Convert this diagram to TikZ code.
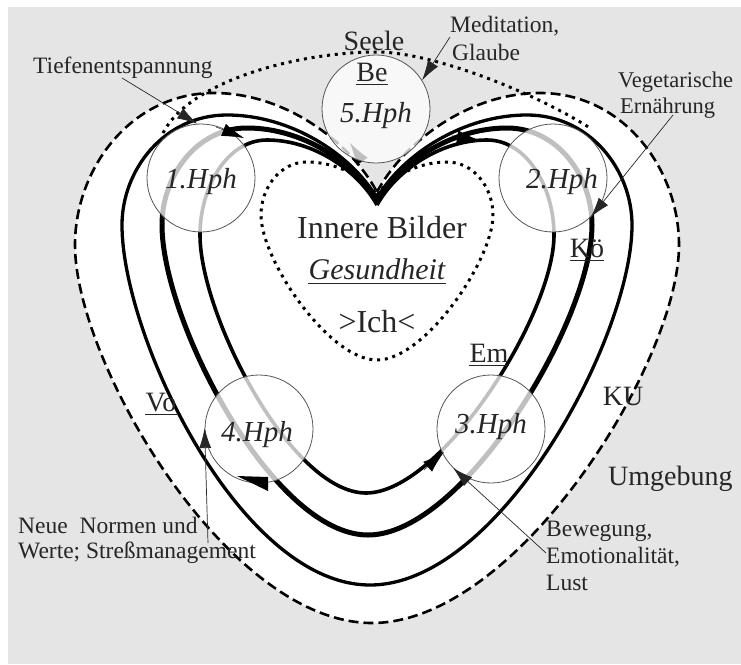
\documentclass[tikz,border=0pt]{standalone}
\usepackage{fontspec}
\setmainfont{Liberation Serif}
\usetikzlibrary{arrows.meta}
\definecolor{bggray}{RGB}{229,229,229}
\definecolor{cborder}{RGB}{85,85,85}
\newcommand\fntA{\fontsize{23.5}{28}\selectfont}
\newcommand\fntB{\fontsize{28}{32}\selectfont}
\newcommand\fntH{\fontsize{29}{32}\selectfont\itshape}
\newcommand\fntG{\fontsize{30}{34}\selectfont\itshape}
\newcommand\fntC{\fontsize{32}{36}\selectfont}
% heart: #1 cusp y, #2 lobe dx, #3 lobe top y, #4 side dx, #5 side y, #6 bottom y, #7 bottom ctrl dx, #8 bottom x
\newcommand\hrtshape[8]{(377,#1) .. controls ({377+0.17*#2},{#1-0.52*(#1-#3)}) and ({377+0.57*#2},#3) .. ({377+#2},#3)
 .. controls ({377+#2+0.6*(#4-#2)},#3) and ({377+#4},{#3+0.5*(#5-#3)}) .. ({377+#4},#5)
 .. controls ({377+#4},{#5+0.31*(#6-#5)}) and ({#8+#7},#6) .. (#8,#6)
 .. controls ({#8-#7},#6) and ({377-#4},{#5+0.31*(#6-#5)}) .. ({377-#4},#5)
 .. controls ({377-#4},{#3+0.5*(#5-#3)}) and ({377-#2-0.6*(#4-#2)},#3) .. ({377-#2},#3)
 .. controls ({377-0.57*#2},#3) and ({377-0.17*#2},{#1-0.52*(#1-#3)}) .. (377,#1)}
\tikzset{
  hph/.style={circle, minimum size=108pt, inner sep=0pt, draw=cborder, line width=0.8pt, fill=white, fill opacity=0.75, text opacity=1},
  lab/.style={inner sep=0pt, anchor=base, text=black!85},
  ann/.style={draw=black!85, line width=0.7pt, -{Latex[length=20pt,width=12pt]}},
  crvarrow/.style={line width=0.4pt, -{Latex[length=22pt,width=13pt]}},
  dashedheart/.style={line width=2.6pt, dash pattern=on 10pt off 5pt},
  dotline/.style={line width=3pt, line cap=butt, dash pattern=on 3pt off 4.8pt},
  solidheart/.style={line width=3.3pt, line join=round}
}
\begin{document}
\begin{tikzpicture}[x=1pt, y=-1pt]
\useasboundingbox (0,0) rectangle (741,664);
\fill[bggray] (8,7) rectangle (741,664);
% outer dashed heart (KU)
\filldraw[fill=white, dashedheart] \hrtshape{192}{163}{93}{302}{245}{623}{145}{372};
% Seele dotted arc
\draw[dotline] (163,133) .. controls (190,80) and (300,52) .. (377,52) .. controls (430,52) and (530,90) .. (590,128);
% inner dotted heart
\draw[dotline] \hrtshape{195}{70}{162}{116}{215}{360}{48}{377};
% three solid hearts
\draw[solidheart] \hrtshape{198}{150}{115}{255}{225}{585}{130}{370};
\draw[solidheart, line width=5pt] \hrtshape{201}{130}{128}{215}{225}{535}{95}{368};
\draw[solidheart, line width=3.6pt] \hrtshape{205}{110}{140}{177}{235}{493}{75}{366};
% arrow under circle 5 (appears gray)
\draw[crvarrow] (362,161) -- (350,143);
% phase circles
\node[hph] (c5) at (376,109) {};
\node[hph] (c1) at (201,178) {};
\node[hph] (c2) at (553,178) {};
\node[hph] (c3) at (491,429) {};
\node[hph] (c4) at (259,429) {};
% arrows on the curves
\draw[crvarrow] (216,127) -- (244,138);
\draw[crvarrow, line width=0.8pt] (452,136) -- (479,140);
\draw[crvarrow] (424,470) -- (444,452);
\fill (237,476) -- (268,477) -- (268,491) -- cycle;
% texts
\node[lab, font=\fntB] (seele) at (374,50) {Seele};
\node[lab, font=\fntB] (be) at (372,81) {Be};
\node[lab, font=\fntH] (t5) at (376,122) {5.Hph};
\node[lab, font=\fntH] (t1) at (201,188) {1.Hph};
\node[lab, font=\fntH] (t2) at (562,188) {2.Hph};
\node[lab, font=\fntH] (t3) at (491,433) {3.Hph};
\node[lab, font=\fntH] (t4) at (257,441) {4.Hph};
\node[lab, font=\fntC] (ib) at (382,238) {Innere Bilder};
\node[lab, font=\fntG] (ges) at (377,279) {Gesundheit};
\node[lab, font=\fntC] (ich) at (377,332) {>Ich<};
\node[lab, font=\fntB] (ko) at (587,257) {Kö};
\node[lab, font=\fntB] (em) at (489,362) {Em};
\node[lab, font=\fntB] (vo) at (161,411) {Vo};
\node[lab, font=\fntB] (ku) at (623,405) {KU};
\node[lab, font=\fntB, anchor=base west] (umg) at (608,485) {Umgebung};
\foreach \n in {be,ko,em,vo}
  \draw[line width=1.8pt, black!85] ([yshift=-3.5pt]\n.base west) -- ([yshift=-3.5pt]\n.base east);
\draw[line width=1.8pt, black!85] ([yshift=-4.5pt]ges.base west) -- ([yshift=-4.5pt]ges.base east);
% annotations
\node[lab, font=\fntA, anchor=base west] (tief) at (33,73) {Tiefenentspannung};
\node[lab, font=\fntA, anchor=base west] (med) at (450,32) {Meditation,};
\node[lab, font=\fntA, anchor=base west] (glau) at (452,60) {Glaube};
\node[lab, anchor=base west, font=\fontsize{22.5}{27}\selectfont] (veg) at (618,87) {Vegetarische};
\node[lab, anchor=base west, font=\fontsize{22.5}{27}\selectfont] (ern) at (620,113) {Ernährung};
\node[lab, font=\fntA, anchor=base west] (neue) at (18,533) {Neue\ \ Normen und};
\node[lab, font=\fntA, anchor=base west] (werte) at (18,558) {Werte; Streßmanagement};
\node[lab, font=\fntA, anchor=base west] (bew) at (546,536) {Bewegung,};
\node[lab, font=\fntA, anchor=base west] (emo) at (546,563) {Emotionalität,};
\node[lab, font=\fntA, anchor=base west] (lust) at (546,590) {Lust};
\coordinate (tiefS) at (122,78);
\coordinate (medS) at (450,37);
\coordinate (vegS) at (673,115);
\coordinate (neueS) at (208,543);
\coordinate (bewS) at (546,553);
\draw[ann] (tiefS) -- (c1.94);
\draw[ann] (medS) -- (c5.32);
\draw[ann] (vegS) -- (c2.-46);
\draw[ann] (neueS) -- (c4.179);
\draw[ann] (bewS) -- (c3.226);
\end{tikzpicture}
\end{document}
